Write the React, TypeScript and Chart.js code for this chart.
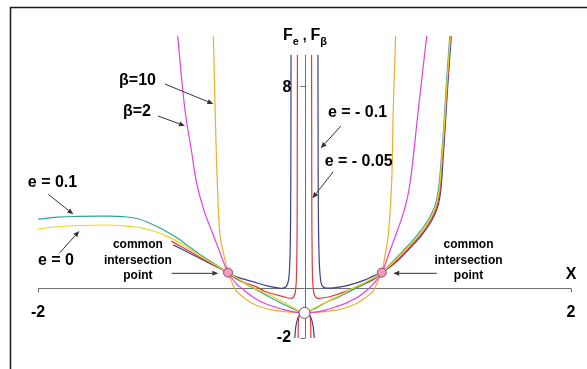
import { useEffect, useRef } from "react";
import { Chart, registerables } from "chart.js";

Chart.register(...registerables);

type Pt = [number, number];

// axis ranges and tick marks
const X_RANGE: Pt = [-2, 2];
const Y_RANGE: Pt = [-2, 10];
const X_TICKS = [-2, 2];
const Y_TICKS = [8, -2];
const Y_AXIS_TOP = 9.25;

// F_e, e = 0.1
const curveE01: Pt[] = [
  [-2.0, 2.72], [-1.85, 2.8], [-1.7, 2.83], [-1.5, 2.84], [-1.36, 2.82], [-1.25, 2.74],
  [-1.16, 2.56], [-1.06, 2.3], [-0.957, 1.98], [-0.87, 1.65], [-0.784, 1.32], [-0.68, 0.96],
  [-0.574, 0.6], [-0.45, 0.18], [-0.35, -0.12], [-0.26, -0.38], [-0.15, -0.68], [-0.07, -0.88],
  [0, -1], [0.07, -0.85], [0.15, -0.62], [0.26, -0.36], [0.35, -0.12], [0.45, 0.15],
  [0.514, 0.35], [0.58, 0.6], [0.66, 1.02], [0.741, 1.47], [0.8, 1.8], [0.854, 2.14],
  [0.9, 2.46], [0.942, 2.82], [0.972, 3.16], [0.99, 3.46], [1.008, 4.02], [1.028, 5.2],
  [1.045, 6.4], [1.065, 8.1], [1.085, 9.6], [1.095, 10.4],
];

// F_e, e = 0
const curveE0: Pt[] = [
  [-2.0, 2.34], [-1.85, 2.42], [-1.685, 2.47], [-1.5, 2.49], [-1.36, 2.46], [-1.25, 2.4],
  [-1.16, 2.29], [-1.06, 2.1], [-0.957, 1.85], [-0.87, 1.56], [-0.784, 1.26], [-0.68, 0.93],
  [-0.574, 0.6], [-0.45, 0.2], [-0.35, -0.08], [-0.26, -0.3], [-0.15, -0.6], [-0.07, -0.84],
  [0, -1], [0.07, -0.82], [0.15, -0.6], [0.26, -0.32], [0.34, -0.08], [0.45, 0.2],
  [0.514, 0.38], [0.58, 0.6], [0.665, 1.0], [0.747, 1.44], [0.806, 1.77], [0.86, 2.1],
  [0.906, 2.42], [0.947, 2.78], [0.977, 3.12], [0.995, 3.42], [1.013, 3.98], [1.032, 5.2],
  [1.049, 6.4], [1.069, 8.1], [1.089, 9.6], [1.099, 10.4],
];

// F_e, e = -0.05 (outer branches and the branch between the poles)
const curveEm005: Pt[] = [
  [-1.0, 1.85], [-0.78, 1.2], [-0.574, 0.6], [-0.514, 0.35], [-0.45, 0.2], [-0.364, 0.04],
  [-0.3, -0.14], [-0.214, -0.28], [-0.13, -0.4], [-0.095, -0.42], [-0.075, -0.3], [-0.065, 0.0],
  [-0.06, 0.5], [-0.057, 1.5], [-0.055, 3.0], [-0.054, 6.0], [-0.053, 9.25],
];
const curveEm005Right: Pt[] = [
  [0.053, 9.25], [0.054, 6.0], [0.055, 3.0], [0.057, 1.5], [0.06, 0.5], [0.065, 0.0],
  [0.075, -0.3], [0.095, -0.42], [0.13, -0.41], [0.19, -0.36], [0.34, -0.09], [0.514, 0.31],
  [0.58, 0.6], [0.67, 0.98], [0.752, 1.41], [0.811, 1.74], [0.865, 2.06], [0.911, 2.38],
  [0.952, 2.74], [0.982, 3.08], [1.0, 3.38], [1.018, 3.95], [1.036, 5.2], [1.052, 6.4],
  [1.072, 8.1], [1.092, 9.6], [1.102, 10.4],
];
const curveEm005Inner: Pt[] = [
  [-0.048, -2.05], [-0.047, -1.6], [-0.045, -1.3], [-0.038, -1.1], [-0.02, -1.02], [0, -1],
  [0.02, -1.02], [0.038, -1.1], [0.045, -1.3], [0.047, -1.6], [0.048, -2.05],
];

// F_e, e = -0.1 (outer branches and the branch between the poles)
const curveEm01: Pt[] = [
  [-0.985, 1.7], [-0.78, 1.15], [-0.574, 0.6], [-0.514, 0.44], [-0.39, 0.24], [-0.264, 0.05],
  [-0.2, -0.01], [-0.16, -0.02], [-0.135, 0.06], [-0.12, 0.3], [-0.112, 0.8], [-0.107, 1.6],
  [-0.104, 3.0], [-0.102, 6.0], [-0.101, 9.25],
];
const curveEm01Right: Pt[] = [
  [0.101, 9.25], [0.102, 6.0], [0.104, 3.0], [0.108, 1.5], [0.113, 0.8], [0.12, 0.35],
  [0.13, 0.1], [0.15, 0.0], [0.19, -0.02], [0.26, 0.02], [0.34, 0.11], [0.45, 0.3],
  [0.514, 0.46], [0.58, 0.6], [0.675, 0.96], [0.758, 1.38], [0.817, 1.71], [0.871, 2.03],
  [0.917, 2.35], [0.958, 2.7], [0.988, 3.04], [1.006, 3.34], [1.024, 3.92], [1.041, 5.2],
  [1.056, 6.4], [1.076, 8.1], [1.096, 9.6], [1.106, 10.4],
];
const curveEm01Inner: Pt[] = [
  [-0.074, -2.05], [-0.07, -1.8], [-0.062, -1.45], [-0.045, -1.15], [-0.025, -1.04], [0, -1],
  [0.025, -1.04], [0.045, -1.15], [0.062, -1.45], [0.07, -1.8], [0.074, -2.05],
];

// F_beta, beta = 2
const curveB2: Pt[] = [
  [-0.96, 10.4], [-0.952, 10.0], [-0.897, 7.06], [-0.85, 5.5], [-0.809, 4.15], [-0.75, 3.0],
  [-0.684, 2.09], [-0.63, 1.33], [-0.584, 0.7], [-0.574, 0.6], [-0.514, 0.17], [-0.45, -0.12],
  [-0.409, -0.29], [-0.364, -0.45], [-0.3, -0.62], [-0.214, -0.78], [-0.159, -0.87], [-0.08, -0.96],
  [0, -1], [0.08, -0.97], [0.141, -0.91], [0.22, -0.79], [0.3, -0.64], [0.339, -0.54],
  [0.392, -0.4], [0.45, -0.18], [0.514, 0.13], [0.58, 0.6], [0.63, 1.3], [0.692, 2.2],
  [0.75, 3.1], [0.792, 4.15], [0.854, 7.06], [0.917, 10.0], [0.925, 10.4],
];

// F_beta, beta = 10
const curveB10: Pt[] = [
  [-0.69, 10.4], [-0.684, 10.0], [-0.672, 7.33], [-0.654, 4.15], [-0.634, 2.09], [-0.605, 1.3],
  [-0.584, 0.8], [-0.574, 0.6], [-0.55, 0.28], [-0.514, -0.12], [-0.45, -0.42], [-0.4, -0.6],
  [-0.334, -0.76], [-0.26, -0.87], [-0.15, -0.95], [0, -1], [0.15, -0.95], [0.26, -0.87],
  [0.334, -0.76], [0.4, -0.6], [0.45, -0.42], [0.514, -0.15], [0.55, 0.25], [0.58, 0.6],
  [0.605, 1.3], [0.629, 2.09], [0.654, 4.15], [0.666, 7.06], [0.684, 10.0], [0.69, 10.4],
];

// marked points
const crossPoints: Pt[] = [[-0.574, 0.6], [0.58, 0.6]];
const originPoint: Pt[] = [[0, -1]];

// text labels, placed in data coordinates
const LABELS: { text: string; at: Pt; size: number }[] = [
  { text: "β=10", at: [-1.253, 8.21], size: 16 },
  { text: "β=2", at: [-1.257, 6.98], size: 16 },
  { text: "e = 0.1", at: [-1.891, 4.16], size: 16 },
  { text: "e = 0", at: [-1.865, 1.06], size: 16 },
  { text: "e = - 0.1", at: [0.398, 6.94], size: 16 },
  { text: "e = - 0.05", at: [0.407, 4.99], size: 16 },
  { text: "common", at: [-1.25, 1.7], size: 12 },
  { text: "intersection", at: [-1.25, 1.08], size: 12 },
  { text: "point", at: [-1.25, 0.48], size: 12 },
  { text: "common", at: [1.231, 1.7], size: 12 },
  { text: "intersection", at: [1.231, 1.08], size: 12 },
  { text: "point", at: [1.231, 0.48], size: 12 },
  { text: "X", at: [2.0, 0.5], size: 16 },
  { text: "-2", at: [-2.0, -1.0], size: 16 },
  { text: "2", at: [2.0, -1.0], size: 16 },
  { text: "8", at: [-0.131, 7.95], size: 16 },
  { text: "-2", at: [-0.154, -2.0], size: 16 },
];

// pointer arrows: [from, to]
const ARROWS: [Pt, Pt][] = [
  [[-1.047, 8.09], [-0.684, 7.3]],
  [[-1.099, 6.82], [-0.897, 6.43]],
  [[-1.923, 3.71], [-1.735, 2.92]],
  [[-1.84, 1.37], [-1.69, 2.25]],
  [[-0.997, 0.57], [-0.647, 0.57]],
  [[0.992, 0.57], [0.666, 0.57]],
  [[0.272, 6.42], [0.122, 5.54]],
  [[0.216, 4.61], [0.059, 3.55]],
];

const TITLE_AT: Pt = [0.004, 10.08];
const FONT = '"Liberation Sans", Arial, Helvetica, sans-serif';

const toXY = (arr: Pt[]) => arr.map(([x, y]) => ({ x, y }));

const curve = (data: Pt[], color: string) => ({
  data: toXY(data),
  borderColor: color,
  backgroundColor: color,
  borderWidth: 1.2,
  showLine: true,
  pointRadius: 0,
  pointHoverRadius: 0,
  tension: 0.4,
  order: 1,
});

const TEAL = "#2ea39c";
const YELLOW = "#efd11c";
const RED = "#e23a3a";
const NAVY = "#3b3f8f";
const MAGENTA = "#e23fe0";
const ORANGE = "#f2ad2c";

const decorations = {
  id: "decorations",
  beforeDatasetsDraw(chart: any) {
    const { ctx, scales } = chart;
    const sx = scales.x;
    const sy = scales.y;
    const px = (v: number) => sx.getPixelForValue(v);
    const py = (v: number) => sy.getPixelForValue(v);
    ctx.save();
    ctx.strokeStyle = "#6f6f6f";
    ctx.lineWidth = 1;
    // x axis
    const y0 = Math.round(py(0)) + 0.5;
    ctx.beginPath();
    ctx.moveTo(px(X_RANGE[0]), y0);
    ctx.lineTo(px(X_RANGE[1]), y0);
    for (const t of X_TICKS) {
      const x = Math.round(px(t)) + 0.5;
      ctx.moveTo(x, y0);
      ctx.lineTo(x, y0 + 4);
    }
    // y axis
    const x0 = Math.round(px(0)) + 0.5;
    ctx.moveTo(x0, py(Y_AXIS_TOP));
    ctx.lineTo(x0, py(Y_RANGE[0]));
    for (const t of Y_TICKS) {
      const y = Math.round(py(t)) + 0.5;
      ctx.moveTo(x0 - 5, y);
      ctx.lineTo(x0, y);
    }
    ctx.stroke();
    ctx.restore();
  },
  afterDraw(chart: any) {
    const { ctx, scales, width, height } = chart;
    const sx = scales.x;
    const sy = scales.y;
    const px = (v: number) => sx.getPixelForValue(v);
    const py = (v: number) => sy.getPixelForValue(v);
    ctx.save();
    // frame
    ctx.strokeStyle = "#1a1a1a";
    ctx.lineWidth = 1.5;
    ctx.beginPath();
    ctx.moveTo(10.5, height);
    ctx.lineTo(10.5, 7.5);
    ctx.lineTo(width, 7.5);
    ctx.stroke();

    // arrows
    ctx.strokeStyle = "#333";
    ctx.fillStyle = "#333";
    ctx.lineWidth = 1;
    for (const [a, b] of ARROWS) {
      const x1 = px(a[0]), y1 = py(a[1]);
      const x2 = px(b[0]), y2 = py(b[1]);
      const ang = Math.atan2(y2 - y1, x2 - x1);
      const len = 6, hw = 2.5;
      const bx = x2 - len * Math.cos(ang), by = y2 - len * Math.sin(ang);
      ctx.beginPath();
      ctx.moveTo(x1, y1);
      ctx.lineTo(bx, by);
      ctx.stroke();
      ctx.beginPath();
      ctx.moveTo(x2, y2);
      ctx.lineTo(bx + hw * Math.sin(ang), by - hw * Math.cos(ang));
      ctx.lineTo(bx - hw * Math.sin(ang), by + hw * Math.cos(ang));
      ctx.closePath();
      ctx.fill();
    }

    // labels
    ctx.fillStyle = "#000";
    ctx.textAlign = "center";
    ctx.textBaseline = "middle";
    for (const l of LABELS) {
      ctx.font = `bold ${l.size}px ${FONT}`;
      ctx.fillText(l.text, px(l.at[0]), py(l.at[1]));
    }

    // axis title F_e , F_beta
    const parts: { t: string; size: number; dy: number }[] = [
      { t: "F", size: 16, dy: 0 },
      { t: "e", size: 11, dy: 5 },
      { t: " , ", size: 14, dy: 0 },
      { t: "F", size: 16, dy: 0 },
      { t: "β", size: 11, dy: 5 },
    ];
    let total = 0;
    const widths = parts.map((p) => {
      ctx.font = `bold ${p.size}px ${FONT}`;
      const w = ctx.measureText(p.t).width;
      total += w;
      return w;
    });
    let cx = px(TITLE_AT[0]) - total / 2;
    const cy = py(TITLE_AT[1]);
    ctx.textAlign = "left";
    ctx.textBaseline = "alphabetic";
    parts.forEach((p, i) => {
      ctx.font = `bold ${p.size}px ${FONT}`;
      ctx.fillText(p.t, cx, cy + 6 + p.dy);
      cx += widths[i];
    });
    ctx.restore();
  },
};

export default function App() {
  const ref = useRef<HTMLCanvasElement | null>(null);

  useEffect(() => {
    if (!ref.current) return;
    const chart = new Chart(ref.current, {
      type: "scatter",
      data: {
        datasets: [
          {
            data: toXY(crossPoints),
            pointRadius: 4.5,
            pointBackgroundColor: "#f39ab8",
            pointBorderColor: "#8a4a64",
            pointBorderWidth: 1,
            showLine: false,
            order: -2,
          },
          {
            data: toXY(originPoint),
            pointRadius: 5.5,
            pointBackgroundColor: "#ffffff",
            pointBorderColor: "#555",
            pointBorderWidth: 1,
            showLine: false,
            order: -2,
          },
          curve(curveE0, YELLOW),
          curve(curveE01, TEAL),
          curve(curveEm005, RED),
          curve(curveEm005Right, RED),
          curve(curveEm005Inner, RED),
          curve(curveEm01, NAVY),
          curve(curveEm01Right, NAVY),
          curve(curveEm01Inner, NAVY),
          curve(curveB2, MAGENTA),
          curve(curveB10, ORANGE),
        ] as any,
      },
      options: {
        animation: false,
        responsive: false,
        maintainAspectRatio: false,
        events: [],
        layout: { padding: { left: 38, right: 16, top: 36, bottom: 31 } },
        scales: {
          x: { type: "linear", min: X_RANGE[0], max: X_RANGE[1], display: false },
          y: { type: "linear", min: Y_RANGE[0], max: Y_RANGE[1], display: false },
        },
        plugins: {
          legend: { display: false },
          tooltip: { enabled: false },
        },
      },
      plugins: [decorations],
    });
    return () => chart.destroy();
  }, []);

  return (
    <div style={{ position: "absolute", left: 0, top: 0, width: 587, height: 369, background: "#fff" }}>
      <canvas ref={ref} width={587} height={369} style={{ display: "block" }} />
    </div>
  );
}
